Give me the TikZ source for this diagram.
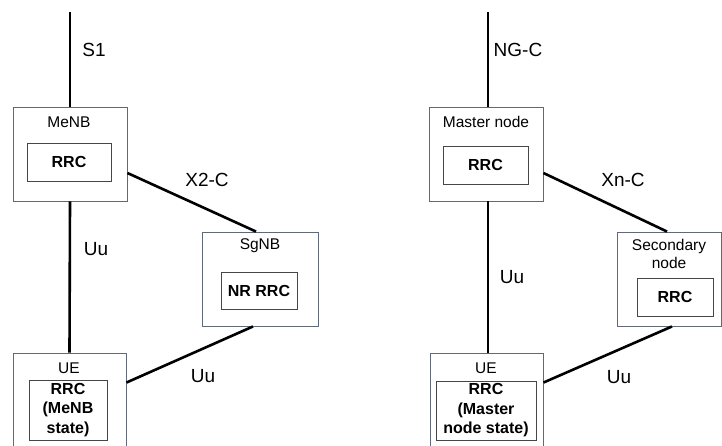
\documentclass[tikz,border=0pt]{standalone}
\usepackage{fontspec}
\setmainfont{Liberation Sans}
\definecolor{boxgray}{RGB}{95,105,120}
\definecolor{innergray}{RGB}{70,70,70}
\begin{document}
\begin{tikzpicture}[x=1pt,y=-1pt,
  outerbox/.style={draw=boxgray, line width=0.9pt, fill=white, inner sep=0pt},
  innerbox/.style={draw=innergray, line width=0.9pt, fill=white, inner sep=0pt, align=center,
    font=\bfseries\fontsize{16}{19.5}\selectfont},
  lbl/.style={font=\fontsize{19}{22}\selectfont, inner sep=0pt},
  boxlbl/.style={font=\fontsize{15.5}{18}\selectfont, inner sep=0pt, align=center},
  link/.style={line width=2.6pt}]
\fill[white] (0,0) rectangle (722,445);
\useasboundingbox (0,0) rectangle (722,445);

% outer boxes
\node[outerbox, minimum width=114pt, minimum height=94pt] (menb) at (70,154) {};
\node[outerbox, minimum width=116pt, minimum height=94pt] (sgnb) at (260,279) {};
\node[outerbox, minimum width=113pt, minimum height=104pt] (ue1) at (69.5,405) {};
\node[outerbox, minimum width=114pt, minimum height=94pt] (master) at (486,154) {};
\node[outerbox, minimum width=104pt, minimum height=94pt] (sec) at (669,279) {};
\node[outerbox, minimum width=113pt, minimum height=104pt] (ue2) at (486.5,405) {};

% box labels
\node[boxlbl] (menbl) at (69,122) {MeNB};
\node[boxlbl] (sgnbl) at (260,246) {SgNB};
\node[boxlbl] (ue1l) at (69,368) {UE};
\node[boxlbl] (masterl) at (486,122) {Master node};
\node[boxlbl] (secl) at (669,254) {Secondary\\node};
\node[boxlbl] (ue2l) at (486,368) {UE};

% inner boxes
\node[innerbox, minimum width=84pt, minimum height=38pt] (rrc1) at (69,162) {RRC};
\node[innerbox, minimum width=76pt, minimum height=37pt] (nrrrc) at (259,290.5) {NR RRC};
\node[innerbox, minimum width=78pt, minimum height=60pt] (rrcue1) at (68,410) {RRC\\(MeNB\\state)};
\node[innerbox, minimum width=85pt, minimum height=38pt] (rrc2) at (485.5,165) {RRC};
\node[innerbox, minimum width=76pt, minimum height=38pt] (rrc3) at (675,297) {RRC};
\node[innerbox, minimum width=100pt, minimum height=59pt] (rrcue2) at (486,410.5) {RRC\\(Master\\node state)};

% free ends
\coordinate (s1top) at (70,12);
\coordinate (ngtop) at (488,12);

% connectors
\draw[link] (s1top) -- (s1top |- menb.north);
\draw[link] (menb.south) -- (ue1.north);
\draw[link] ([yshift=-19pt]menb.east) -- ([xshift=-4pt]sgnb.north);
\draw[link] ([xshift=-7pt]sgnb.south) -- ([yshift=-30pt]ue1.north east);
\draw[link] (ngtop) -- (ngtop |- master.north);
\draw[link] ([xshift=2pt]master.south) -- ([xshift=1.5pt]ue2.north);
\draw[link] ([yshift=-19pt]master.east) -- ([xshift=-2pt]sec.north);
\draw[link] ([xshift=3pt]sec.south) -- ([yshift=-30pt]ue2.north east);

% connector labels
\node[lbl] (s1) at (94,50) {S1};
\node[lbl] (x2c) at (207,180) {X2-C};
\node[lbl] (uu1) at (96,249) {Uu};
\node[lbl] (uu2) at (203,376) {Uu};
\node[lbl] (ngc) at (518,50) {NG-C};
\node[lbl] (xnc) at (623,180) {Xn-C};
\node[lbl] (uu3) at (512,277) {Uu};
\node[lbl] (uu4) at (619,377) {Uu};
\end{tikzpicture}
\end{document}
